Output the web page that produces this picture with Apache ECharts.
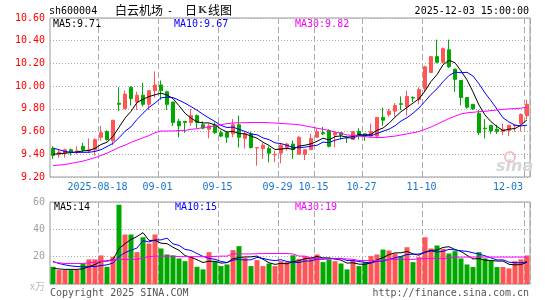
<!DOCTYPE html>
<html>
<head>
<meta charset="utf-8">
<script src="https://cdn.jsdelivr.net/npm/echarts@6/dist/echarts.min.js"></script>
<style>
html,body{margin:0;padding:0;background:#fff;}
#c{width:545px;height:300px;}
</style>
</head>
<body>
<div id="c"></div>
<script>
// ---- data ----
const dates = [
'2025-08-06','2025-08-07','2025-08-08','2025-08-11','2025-08-12','2025-08-13','2025-08-14','2025-08-15','2025-08-18','2025-08-19',
'2025-08-20','2025-08-21','2025-08-22','2025-08-25','2025-08-26','2025-08-27','2025-08-28','2025-08-29','2025-09-01','2025-09-02',
'2025-09-03','2025-09-04','2025-09-05','2025-09-08','2025-09-09','2025-09-10','2025-09-11','2025-09-12','2025-09-15','2025-09-16',
'2025-09-17','2025-09-18','2025-09-19','2025-09-22','2025-09-23','2025-09-24','2025-09-25','2025-09-26','2025-09-29','2025-09-30',
'2025-10-09','2025-10-10','2025-10-13','2025-10-14','2025-10-15','2025-10-16','2025-10-17','2025-10-20','2025-10-21','2025-10-22',
'2025-10-23','2025-10-24','2025-10-27','2025-10-28','2025-10-29','2025-10-30','2025-10-31','2025-11-03','2025-11-04','2025-11-05',
'2025-11-06','2025-11-07','2025-11-10','2025-11-11','2025-11-12','2025-11-13','2025-11-14','2025-11-17','2025-11-18','2025-11-19',
'2025-11-20','2025-11-21','2025-11-24','2025-11-25','2025-11-26','2025-11-27','2025-11-28','2025-12-01','2025-12-02','2025-12-03'];

const opens = [9.45,9.40,9.41,9.44,9.42,9.47,9.43,9.44,9.55,9.60, 9.52,9.85,9.80,9.99,9.86,9.92,9.84,9.96,10.01,9.95,
 9.86,9.69,9.69,9.68,9.74,9.66,9.62,9.66,9.59,9.59, 9.58,9.66,9.54,9.58,9.455,9.45,9.45,9.395,9.41,9.46,
 9.49,9.40,9.40,9.44,9.55,9.59,9.61,9.57,9.59,9.55, 9.53,9.60,9.58,9.56,9.56,9.725,9.75,9.78,9.845,9.82,
 9.90,9.88,9.98,10.12,10.26,10.21,10.32,10.15,10.05,9.90, 9.84,9.76,9.63,9.655,9.62,9.60,9.61,9.65,9.67,9.74];
const closes = [9.39,9.42,9.44,9.42,9.43,9.44,9.44,9.53,9.59,9.53, 9.70,9.84,9.93,9.89,9.92,9.84,9.96,10.01,9.96,9.84,
 9.68,9.65,9.68,9.74,9.68,9.63,9.65,9.59,9.56,9.55, 9.66,9.55,9.58,9.46,9.46,9.48,9.41,9.40,9.48,9.49,
 9.44,9.55,9.44,9.54,9.60,9.58,9.47,9.59,9.57,9.545, 9.60,9.57,9.56,9.60,9.725,9.70,9.78,9.83,9.84,9.91,
 9.895,9.97,10.17,10.26,10.21,10.33,10.17,10.06,9.90,9.815, 9.80,9.59,9.625,9.605,9.60,9.62,9.655,9.655,9.75,9.84];
const highs = [9.47,9.44,9.45,9.45,9.47,9.50,9.54,9.54,9.65,9.61, 9.70,9.99,9.96,10.00,9.95,10.03,9.96,10.13,10.05,9.96,
 9.86,9.71,9.69,9.80,9.75,9.69,9.67,9.68,9.61,9.60, 9.71,9.74,9.60,9.60,9.46,9.50,9.47,9.43,9.49,9.50,
 9.52,9.56,9.44,9.58,9.63,9.64,9.62,9.60,9.59,9.56, 9.60,9.63,9.58,9.67,9.725,9.81,9.80,9.85,9.91,9.96,
 9.91,9.99,10.18,10.26,10.41,10.34,10.41,10.15,10.05,9.90, 9.84,9.79,9.71,9.655,9.66,9.67,9.66,9.66,9.76,9.88];
const lows = [9.36,9.37,9.37,9.39,9.40,9.42,9.41,9.39,9.52,9.52, 9.48,9.78,9.80,9.83,9.79,9.82,9.79,9.90,9.88,9.79,
 9.65,9.55,9.59,9.65,9.63,9.62,9.54,9.58,9.55,9.50, 9.55,9.46,9.45,9.45,9.30,9.36,9.33,9.33,9.32,9.43,
 9.36,9.40,9.35,9.44,9.55,9.57,9.46,9.46,9.53,9.50, 9.53,9.53,9.52,9.56,9.54,9.65,9.73,9.73,9.79,9.74,
 9.86,9.84,9.95,10.12,10.20,10.20,10.16,9.95,9.83,9.80, 9.79,9.57,9.54,9.58,9.58,9.57,9.56,9.60,9.60,9.71];

const ma5 = [9.40,9.405,9.41,9.415,9.42,9.43,9.434,9.452,9.486,9.506, 9.558,9.638,9.718,9.778,9.856,9.884,9.908,9.924,9.938,9.922,
 9.89,9.828,9.762,9.718,9.686,9.676,9.676,9.658,9.622,9.596, 9.602,9.582,9.58,9.56,9.542,9.506,9.478,9.442,9.446,9.452,
 9.444,9.472,9.48,9.492,9.514,9.542,9.526,9.556,9.562,9.551, 9.555,9.575,9.569,9.575,9.611,9.631,9.673,9.727,9.775,9.812,
 9.851,9.889,9.957,10.041,10.101,10.188,10.228,10.206,10.134,10.055, 9.949,9.833,9.746,9.687,9.644,9.608,9.621,9.627,9.656,9.704];
const ma10 = [9.455,9.44,9.425,9.418,9.417,9.417,9.418,9.425,9.44,9.468, 9.496,9.545,9.602,9.642,9.707,9.761,9.813,9.851,9.897,9.903,
 9.899,9.876,9.85,9.82,9.788,9.752,9.719,9.688,9.654,9.636, 9.639,9.62,9.601,9.578,9.572,9.544,9.529,9.501,9.494,9.479,
 9.461,9.457,9.463,9.472,9.479,9.507,9.503,9.524,9.538,9.547, 9.541,9.566,9.566,9.563,9.583,9.603,9.621,9.651,9.693,9.722,
 9.762,9.808,9.866,9.927,9.976,10.039,10.093,10.124,10.118,10.122, 10.089,10.02,9.94,9.871,9.797,9.721,9.684,9.657,9.65,9.656];
const ma30 = [9.30,9.305,9.31,9.32,9.33,9.34,9.355,9.37,9.39,9.41, 9.435,9.46,9.48,9.505,9.525,9.545,9.565,9.59,9.605,9.605,
 9.605,9.61,9.61,9.62,9.625,9.635,9.64,9.65,9.66,9.67, 9.675,9.678,9.678,9.68,9.68,9.68,9.678,9.675,9.672,9.668,
 9.665,9.66,9.65,9.64,9.63,9.62,9.61,9.595,9.585,9.57, 9.565,9.56,9.555,9.55,9.548,9.548,9.555,9.56,9.57,9.58,
 9.59,9.60,9.62,9.64,9.665,9.69,9.715,9.735,9.755,9.765, 9.77,9.775,9.778,9.785,9.79,9.795,9.80,9.802,9.806,9.815];

const volumes = [12.6,10.2,10.2,10.2,10.2,15,18,18,20.9,12.6, 19.9,58,36.2,36.2,23.3,34.2,29.6,36.2,26,21.6,
 20.9,18.7,16.7,19.9,12.6,10.7,23.3,16.7,13.1,14.3, 24.8,27.7,19.2,13.1,17.5,13.1,15,13.1,16.7,16,
 21,18.4,20.4,19.2,21.6,16,18,16.7,15,10.7, 17.2,13.1,16,20.4,21.6,25.2,24.5,22.3,20.4,26.9,
 16,19.7,34.2,26,28.2,25.7,22.3,24,18.7,14.3, 12.4,23.3,18.7,17.2,12.4,12.4,11.4,16.7,18,20.9];
const volMa5 = [11.5,11,10.7,10.7,10.68,11.16,12.72,14.28,16.42,16.9, 17.88,25.88,29.52,32.58,34.72,37.58,31.9,31.9,29.86,29.52,
 26.86,24.68,20.78,19.56,17.76,15.72,16.64,16.64,15.28,15.62, 18.44,19.32,19.82,19.82,20.46,18.12,15.58,14.36,15.08,14.78,
 16.36,17.04,18.5,19,20.12,19.12,19.04,18.3,17.46,15.28, 15.52,14.54,14.4,15.48,17.66,19.26,21.54,22.8,22.8,23.86,
 22.02,21.06,23.44,24.56,24.82,26.76,27.28,25.24,23.78,21, 18.34,18.54,17.48,17.18,16.8,16.8,14.42,14.02,14.18,15.88];
const volMa10 = [16.5,15,14,13.2,12.8,12.6,12.6,12.8,13.5,14.03, 15.3,20.08,22.97,24.74,26.3,31.73,30.71,32.24,32.29,33.55,
 29.38,28.29,25.32,24.54,22.31,20.2,18.71,18.1,16.52,15.67, 17.54,17.98,17.55,17.72,19.45,18.72,17.7,17.09,17.77,16.45,
 15.97,15.7,16.79,16.89,18.24,18.08,18.77,18.65,18.79,17.2, 17.28,16.42,15.93,15.38,16.59,16.9,17.97,19.14,20.23,21.56,
 21.78,21.93,23.12,24.21,23.42,23.91,25.36,24.9,24.3,23.88, 22.81,21.89,20.63,19.09,17.57,17.67,15.95,15.6,15.49,16.34];
const volMa30 = [16,15.5,15,15,15,15,15.5,16,16.5,16.7, 17.5,18,18,18,18,19,20,20.4,20.4,20.4,
 20.4,20,20,20,20,20,20,20.2,20.4,20.4, 22,22,22,22,22.2,22.2,22.3,22.3,22.3,22.3,
 22,20.4,20.4,19,18.4,18.4,18.4,18.4,18.4,18.4, 18,17.2,17.2,17.2,17.2,17.5,18,18,18,18,
 18,18.4,18.7,18.7,18.7,18.7,19,19.5,19.7,19.7, 19.7,19.7,19.7,19.7,19.7,19.7,19.7,19.7,19.7,19.7];

const tickIdx = [8,18,28,38,44,52,62,79];
const tickLabels = ['2025-08-18','09-01','09-15','09-29','10-15','10-27','11-10','12-03'];

// ---- chart ----
const MONO = 'DejaVu Sans Mono';
const RED = '#ff5555', GREEN = '#00a800';
const chart = echarts.init(document.getElementById('c'), null, {renderer:'canvas'});
const isTick = (i) => tickIdx.indexOf(i) >= 0;
const vSplit = {show:true, interval:(i)=>isTick(i), lineStyle:{color:'#aaaaaa', width:1, type:[6,3]}};

function lineSeries(data, color, xi, yi){
  return {type:'line', data:data, xAxisIndex:xi, yAxisIndex:yi, symbol:'none', showSymbol:false,
    lineStyle:{color:color, width:1}, itemStyle:{color:color}, silent:true, z:3};
}

const option = {
  animation:false,
  backgroundColor:'#ffffff',
  grid:[
    {left:50, top:18, width:480, height:159, show:true, borderColor:'#999999', borderWidth:1},
    {left:50, top:202, width:480, height:82, show:true, borderColor:'#999999', borderWidth:1}
  ],
  xAxis:[
    {type:'category', gridIndex:0, data:dates, boundaryGap:true,
     axisLine:{show:false}, axisTick:{show:false},
     axisLabel:{interval:(i)=>isTick(i), margin:5,
       formatter:(v,i)=>{const k=tickIdx.indexOf(i); if(k<0) return ''; return (k===tickIdx.length-1?'{e|':'{p|')+tickLabels[k]+'}';},
       rich:{p:{padding:[0,7,0,0], color:'#1874cd', fontFamily:MONO, fontSize:10},
             e:{padding:[0,38,0,0], color:'#1874cd', fontFamily:MONO, fontSize:10}}},
     splitLine:vSplit},
    {type:'category', gridIndex:1, data:dates, boundaryGap:true,
     axisLine:{show:false}, axisTick:{show:false}, axisLabel:{show:false},
     splitLine:vSplit}
  ],
  yAxis:[
    {type:'value', gridIndex:0, min:9.2, max:10.6, interval:0.2, scale:true,
     axisLine:{show:false}, axisTick:{show:false},
     axisLabel:{color:'#ff0000', fontFamily:MONO, fontSize:10, margin:5, formatter:(v)=>v.toFixed(2)},
     splitLine:{show:true, lineStyle:{color:'#aaaaaa', width:1, type:[1,2]}}},
    {type:'value', gridIndex:1, min:0, max:60, interval:20,
     axisLine:{show:false}, axisTick:{show:false},
     axisLabel:{color:'#a0a0a0', fontFamily:MONO, fontSize:10, margin:5,
       formatter:(v)=> v===0 ? '{u|x万}' : String(v),
       rich:{u:{color:'#bbbbbb', fontSize:10, fontFamily:'Noto Sans CJK SC', padding:[4,0,0,0]}}},
     splitLine:{show:true, lineStyle:{color:'#aaaaaa', width:1, type:[1,2]}}}
  ],
  series:[
    {type:'candlestick', xAxisIndex:0, yAxisIndex:0, barWidth:4,
     data: dates.map((d,i)=>[opens[i], closes[i], lows[i], highs[i]]),
     itemStyle:{color:RED, color0:GREEN, borderColor:RED, borderColor0:GREEN, borderWidth:1}, z:2},
    lineSeries(ma5,'#000000',0,0),
    lineSeries(ma10,'#0000ff',0,0),
    lineSeries(ma30,'#ff00ff',0,0),
    {type:'bar', xAxisIndex:1, yAxisIndex:1, barWidth:5,
     data: volumes.map((v,i)=>({value:v, itemStyle:{color: closes[i]>=opens[i]?RED:GREEN}})), z:2},
    lineSeries(volMa5,'#000000',1,1),
    lineSeries(volMa10,'#0000ff',1,1),
    lineSeries(volMa30,'#ff00ff',1,1)
  ],
  graphic:[
    {type:'text', x:49, y:11, style:{text:'sh600004', font:'10px "DejaVu Sans Mono"', fill:'#000', verticalAlign:'middle'}},
    {type:'text', x:115, y:10, style:{text:'白云机场', font:'12px "Noto Sans CJK SC"', fill:'#000', verticalAlign:'middle'}},
    {type:'text', x:167, y:11, style:{text:'-', font:'10px "DejaVu Sans Mono"', fill:'#000', verticalAlign:'middle'}},
    {type:'text', x:185, y:10, style:{text:'日', font:'12px "Noto Sans CJK SC"', fill:'#000', verticalAlign:'middle'}},
    {type:'text', x:198, y:10, style:{text:'K', font:'bold 10px "DejaVu Serif"', fill:'#333', verticalAlign:'middle'}},
    {type:'text', x:208, y:10, style:{text:'线图', font:'12px "Noto Sans CJK SC"', fill:'#000', verticalAlign:'middle'}},
    {type:'text', x:529, y:11, style:{text:'2025-12-03 15:00:00', font:'10px "DejaVu Sans Mono"', fill:'#000', align:'right', verticalAlign:'middle'}},
    {type:'text', x:53, y:24, style:{text:'MA5:9.71', font:'10px "DejaVu Sans Mono"', fill:'#000', verticalAlign:'middle'}},
    {type:'text', x:174, y:24, style:{text:'MA10:9.67', font:'10px "DejaVu Sans Mono"', fill:'#0000ff', verticalAlign:'middle'}},
    {type:'text', x:295, y:24, style:{text:'MA30:9.82', font:'10px "DejaVu Sans Mono"', fill:'#ff00ff', verticalAlign:'middle'}},
    {type:'text', x:54, y:207, style:{text:'MA5:14', font:'10px "DejaVu Sans Mono"', fill:'#000', verticalAlign:'middle'}},
    {type:'text', x:175, y:207, style:{text:'MA10:15', font:'10px "DejaVu Sans Mono"', fill:'#0000ff', verticalAlign:'middle'}},
    {type:'text', x:295, y:207, style:{text:'MA30:19', font:'10px "DejaVu Sans Mono"', fill:'#ff00ff', verticalAlign:'middle'}},
    {type:'text', x:50, y:293, style:{text:'Copyright 2025 SINA.COM', font:'10px "DejaVu Sans Mono"', fill:'#555', verticalAlign:'middle'}},
    {type:'text', x:529, y:293, style:{text:'http://finance.sina.com.cn', font:'10px "DejaVu Sans Mono"', fill:'#555', align:'right', verticalAlign:'middle'}},
    {type:'circle', shape:{cx:510, cy:157, r:5}, style:{fill:'none', stroke:'#f3c0c0', lineWidth:2}, z:1},
    {type:'text', x:496, y:167, style:{text:'sina', font:'italic bold 16px "DejaVu Sans"', fill:'#d6d6d6', verticalAlign:'middle'}, z:1}
  ]
};
chart.setOption(option);
</script>
</body>
</html>
